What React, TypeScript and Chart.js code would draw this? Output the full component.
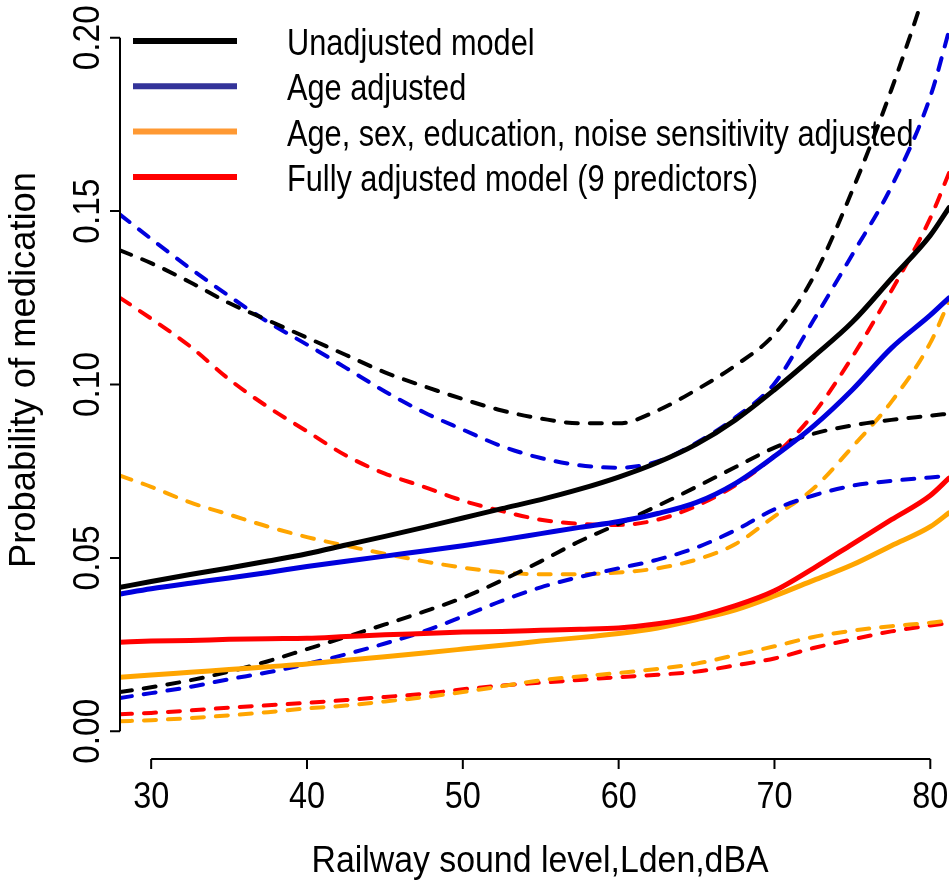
import { useEffect, useRef } from "react";
import { Chart, registerables } from "chart.js";

Chart.register(...registerables);

// ---- data ----
const xs = [28, 30, 32.5, 35, 37.5, 40, 42.5, 45, 47.5, 50, 52.5, 55, 57.5, 60, 62.5, 65, 67.5, 70, 72.5, 75, 77.5, 80, 81.2];

const unadj = [0.0415, 0.0432, 0.0452, 0.0471, 0.0491, 0.0512, 0.0537, 0.0562, 0.0588, 0.0615, 0.0642, 0.0668, 0.0698, 0.0733, 0.0775, 0.0828, 0.0898, 0.0985, 0.108, 0.118, 0.1305, 0.143, 0.151];
const unadjLo = [0.0113, 0.0127, 0.0147, 0.0172, 0.0202, 0.0237, 0.0272, 0.0308, 0.0345, 0.0385, 0.0435, 0.049, 0.0548, 0.0598, 0.065, 0.0705, 0.0762, 0.0818, 0.0858, 0.0882, 0.0898, 0.091, 0.0916];
const unadjHi = [0.1387, 0.135, 0.1295, 0.1235, 0.1185, 0.1135, 0.1085, 0.1035, 0.0995, 0.0958, 0.0925, 0.0902, 0.0888, 0.0888, 0.0925, 0.0985, 0.1055, 0.1145, 0.131, 0.156, 0.185, 0.218, 0.235];

const ageAdj = [0.0396, 0.0411, 0.0427, 0.0442, 0.0458, 0.0475, 0.049, 0.0505, 0.052, 0.0535, 0.0552, 0.057, 0.0588, 0.0605, 0.0628, 0.066, 0.0715, 0.0793, 0.088, 0.0985, 0.1105, 0.12, 0.125];
const ageLo = [0.0096, 0.011, 0.0128, 0.015, 0.017, 0.0194, 0.0222, 0.0253, 0.0288, 0.0331, 0.0376, 0.0415, 0.0445, 0.047, 0.0495, 0.053, 0.058, 0.064, 0.068, 0.0708, 0.0722, 0.0732, 0.0737];
const ageHi = [0.149, 0.142, 0.1335, 0.1255, 0.118, 0.1115, 0.1048, 0.098, 0.092, 0.087, 0.0822, 0.0788, 0.0767, 0.076, 0.0778, 0.0832, 0.0905, 0.1003, 0.1185, 0.1375, 0.157, 0.183, 0.202];

const covAdj = [0.0156, 0.0162, 0.017, 0.0178, 0.0186, 0.0194, 0.0205, 0.0215, 0.0226, 0.0237, 0.0248, 0.026, 0.027, 0.0282, 0.0298, 0.0322, 0.035, 0.039, 0.0435, 0.048, 0.0535, 0.059, 0.063];
const covLo = [0.0029, 0.0032, 0.0038, 0.0046, 0.0055, 0.0066, 0.0074, 0.0086, 0.0098, 0.0113, 0.013, 0.0147, 0.0158, 0.0168, 0.018, 0.0195, 0.022, 0.0245, 0.0272, 0.029, 0.0303, 0.0313, 0.032];
const covHi = [0.0737, 0.0705, 0.066, 0.0625, 0.059, 0.056, 0.0535, 0.0512, 0.049, 0.0472, 0.0458, 0.0453, 0.0453, 0.0458, 0.047, 0.0495, 0.054, 0.062, 0.07, 0.082, 0.095, 0.112, 0.124];

const fullAdj = [0.0257, 0.026, 0.0262, 0.0265, 0.0267, 0.0268, 0.0273, 0.0278, 0.0282, 0.0286, 0.0288, 0.0291, 0.0294, 0.0298, 0.031, 0.033, 0.0362, 0.0405, 0.047, 0.054, 0.061, 0.068, 0.073];
const fullLo = [0.0049, 0.0053, 0.006, 0.0068, 0.0075, 0.0082, 0.009, 0.0099, 0.0108, 0.0121, 0.0132, 0.014, 0.0148, 0.0156, 0.0163, 0.0172, 0.019, 0.021, 0.024, 0.0265, 0.0288, 0.0305, 0.0312];
const fullHi = [0.125, 0.119, 0.111, 0.1015, 0.0935, 0.0865, 0.0795, 0.0743, 0.0705, 0.0665, 0.0635, 0.061, 0.0598, 0.0595, 0.061, 0.065, 0.071, 0.0795, 0.0915, 0.108, 0.127, 0.148, 0.161];

const xTicks = [30, 40, 50, 60, 70, 80];
const yTicks = [0, 0.05, 0.1, 0.15, 0.2];
const yTickLabels = ["0.00", "0.05", "0.10", "0.15", "0.20"];

const legendLabels = [
  "Unadjusted model",
  "Age adjusted",
  "Age, sex, education, noise sensitivity adjusted",
  "Fully adjusted model (9 predictors)",
];
const legendColors = ["#000000", "#333399", "#FF9933", "#FF0000"];

const xTitle = "Railway sound level,Lden,dBA";
const yTitle = "Probability of medication";

// ---- styling ----
const BLACK = "#000000";
const BLUE = "#0000DD";
const ORANGE = "#FFA500";
const RED = "#FF0000";
const FONT = '"Liberation Sans", Arial, Helvetica, sans-serif';

const pts = (arr: number[]) => arr.map((v, i) => ({ x: xs[i], y: v }));

const solid = (data: number[], color: string) => ({
  data: pts(data),
  borderColor: color,
  borderWidth: 5,
  borderCapStyle: "round" as const,
  borderJoinStyle: "round" as const,
  pointRadius: 0,
  fill: false,
  cubicInterpolationMode: "monotone" as const,
});

const dashed = (data: number[], color: string) => ({
  data: pts(data),
  borderColor: color,
  borderWidth: 4,
  borderDash: [12, 12],
  borderCapStyle: "round" as const,
  borderJoinStyle: "round" as const,
  pointRadius: 0,
  fill: false,
  cubicInterpolationMode: "monotone" as const,
});

function drawText(
  ctx: CanvasRenderingContext2D,
  text: string,
  x: number,
  y: number,
  size: number,
  sx: number,
  rot: number,
  align: CanvasTextAlign
) {
  ctx.save();
  ctx.translate(x, y);
  if (rot) ctx.rotate(rot);
  ctx.scale(sx, 1);
  ctx.font = `${size}px ${FONT}`;
  ctx.fillStyle = "#000";
  ctx.textAlign = align;
  ctx.textBaseline = "alphabetic";
  ctx.fillText(text, 0, 0);
  ctx.restore();
}

const axesPlugin = {
  id: "rStyleAxes",
  afterDraw(chart: any) {
    const ctx: CanvasRenderingContext2D = chart.ctx;
    const xs_ = chart.scales.x;
    const ys_ = chart.scales.y;
    const area = chart.chartArea;
    ctx.save();
    ctx.strokeStyle = "#000";
    ctx.lineWidth = 2;
    ctx.lineCap = "butt";

    // y axis
    const ax = area.left;
    const yTop = ys_.getPixelForValue(yTicks[yTicks.length - 1]);
    const yBot = ys_.getPixelForValue(yTicks[0]);
    ctx.beginPath();
    ctx.moveTo(ax, yTop);
    ctx.lineTo(ax, yBot);
    yTicks.forEach((t) => {
      const py = ys_.getPixelForValue(t);
      ctx.moveTo(ax, py);
      ctx.lineTo(ax - 10, py);
    });
    ctx.stroke();
    yTicks.forEach((t, i) => {
      const py = ys_.getPixelForValue(t);
      drawText(ctx, yTickLabels[i], 99, py, 36, 0.93, -Math.PI / 2, "center");
    });

    // x axis
    const ay = area.bottom;
    const xL = xs_.getPixelForValue(xTicks[0]);
    const xR = xs_.getPixelForValue(xTicks[xTicks.length - 1]);
    ctx.beginPath();
    ctx.moveTo(xL, ay);
    ctx.lineTo(xR, ay);
    xTicks.forEach((t) => {
      const px = xs_.getPixelForValue(t);
      ctx.moveTo(px, ay);
      ctx.lineTo(px, ay + 10);
    });
    ctx.stroke();
    xTicks.forEach((t) => {
      const px = xs_.getPixelForValue(t);
      drawText(ctx, String(t), px, 808, 36, 0.9, 0, "center");
    });

    // titles
    drawText(ctx, xTitle, 540, 872, 36, 0.94, 0, "center");
    drawText(ctx, yTitle, 35, 370, 36, 1.01, -Math.PI / 2, "center");

    // legend
    legendLabels.forEach((lab, i) => {
      const ly = 41 + i * 45.3;
      ctx.beginPath();
      ctx.strokeStyle = legendColors[i];
      ctx.lineWidth = 6;
      ctx.moveTo(133, ly);
      ctx.lineTo(237, ly);
      ctx.stroke();
      drawText(ctx, lab, 287, ly + 14, 37, 0.83, 0, "left");
    });
    ctx.restore();
  },
};

export default function App() {
  const ref = useRef<HTMLCanvasElement>(null);
  useEffect(() => {
    if (!ref.current) return;
    const chart = new Chart(ref.current, {
      type: "line",
      data: {
        datasets: [
          solid(unadj, BLACK),
          solid(ageAdj, BLUE),
          solid(fullAdj, RED),
          solid(covAdj, ORANGE),
          dashed(unadjLo, BLACK),
          dashed(unadjHi, BLACK),
          dashed(ageLo, BLUE),
          dashed(ageHi, BLUE),
          dashed(covLo, ORANGE),
          dashed(covHi, ORANGE),
          dashed(fullLo, RED),
          dashed(fullHi, RED),
        ] as any,
      },
      options: {
        responsive: false,
        devicePixelRatio: 1,
        animation: false,
        layout: { padding: { left: 120, top: 10, right: 0, bottom: 124 } },
        plugins: { legend: { display: false }, tooltip: { enabled: false } },
        scales: {
          x: { type: "linear", min: 28, max: 81.2, display: false },
          y: { type: "linear", min: -0.008, max: 0.208, display: false },
        },
      },
      plugins: [axesPlugin],
    });
    return () => chart.destroy();
  }, []);
  return (
    <div style={{ position: "absolute", left: 0, top: 0, width: 949, height: 883, background: "#fff" }}>
      <canvas ref={ref} width={949} height={883} style={{ width: 949, height: 883, display: "block" }} />
    </div>
  );
}
